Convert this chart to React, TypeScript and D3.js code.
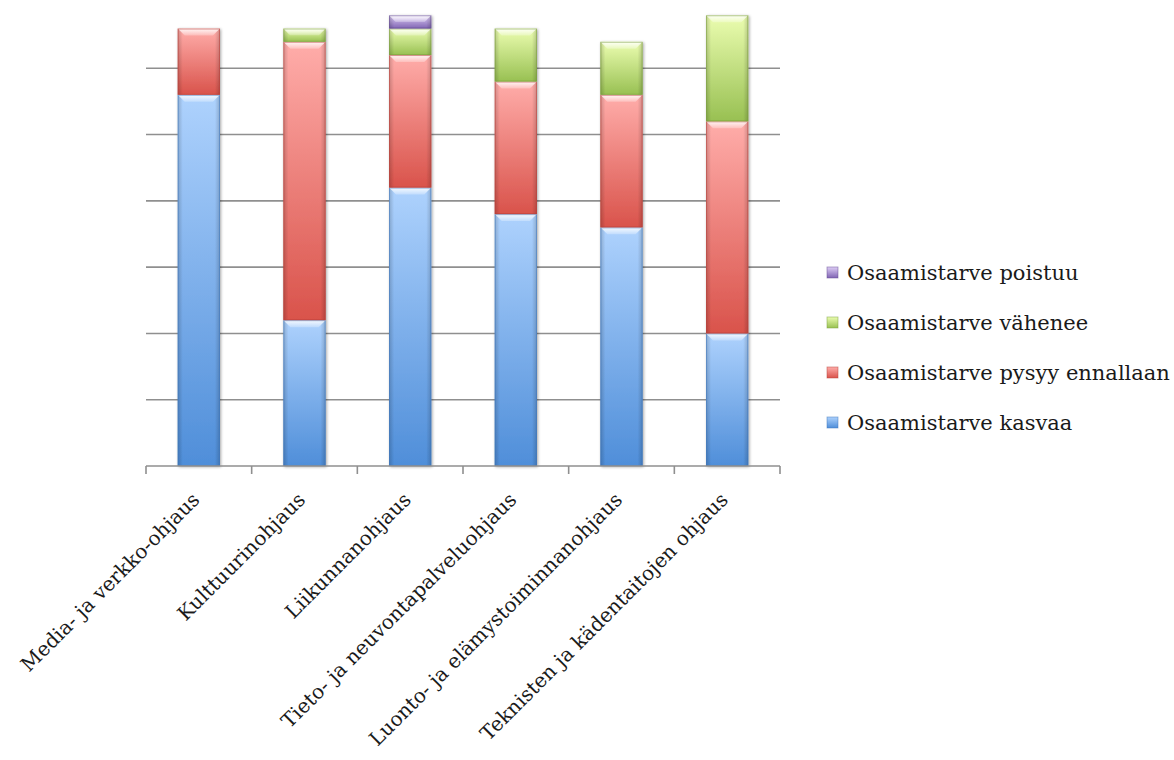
import React from "react";
import * as d3 from "d3";

const WIDTH = 1174;
const HEIGHT = 760;

const categories = [
  "Media- ja verkko-ohjaus",
  "Kulttuurinohjaus",
  "Liikunnanohjaus",
  "Tieto- ja neuvontapalveluohjaus",
  "Luonto- ja elämystoiminnanohjaus",
  "Teknisten ja kädentaitojen ohjaus",
];

const seriesNames = [
  "Osaamistarve kasvaa",
  "Osaamistarve pysyy ennallaan",
  "Osaamistarve vähenee",
  "Osaamistarve poistuu",
];

const kasvaa = [28, 11, 21, 19, 18, 10];
const pysyy = [5, 21, 10, 10, 10, 16];
const vahenee = [0, 1, 2, 4, 4, 8];
const poistuu = [0, 0, 1, 0, 0, 0];

const gridTicks = [5, 10, 15, 20, 25, 30];

// light (top) / dark (bottom) per series
const palette = [
  { light: "#aed2fd", dark: "#4f8ed9", edge: "#3f78bd" },
  { light: "#ffadaa", dark: "#d9534b", edge: "#b8423b" },
  { light: "#ebfdb0", dark: "#98c052", edge: "#7a9e3e" },
  { light: "#ddcdf5", dark: "#8064b3", edge: "#654d94" },
];

const FONT = "'DejaVu Serif', 'Liberation Serif', serif";

export default function App() {
  const rows = categories.map((c, i) => ({
    cat: c,
    s0: kasvaa[i],
    s1: pysyy[i],
    s2: vahenee[i],
    s3: poistuu[i],
  }));
  const keys = ["s0", "s1", "s2", "s3"];
  const stacked = d3.stack<any>().keys(keys)(rows);

  const x = d3
    .scaleBand<string>()
    .domain(categories)
    .range([146, 780])
    .paddingInner(0.6)
    .paddingOuter(0.3);
  const y = d3.scaleLinear().domain([0, 35]).range([466, 2]);
  const step = x.step();
  const bw = x.bandwidth();

  return (
    <svg
      width={WIDTH}
      height={HEIGHT}
      style={{ position: "absolute", left: 0, top: 0, background: "#fff" }}
    >
      <defs>
        {palette.map((p, i) => (
          <linearGradient key={i} id={`g${i}`} x1="0" y1="0" x2="0" y2="1">
            <stop offset="0" stopColor={p.light} />
            <stop offset="1" stopColor={p.dark} />
          </linearGradient>
        ))}
        <linearGradient id="sides" x1="0" y1="0" x2="1" y2="0">
          <stop offset="0" stopColor="#000" stopOpacity="0.18" />
          <stop offset="0.12" stopColor="#000" stopOpacity="0" />
          <stop offset="0.88" stopColor="#000" stopOpacity="0" />
          <stop offset="1" stopColor="#000" stopOpacity="0.18" />
        </linearGradient>
        <linearGradient id="hl" x1="0" y1="0" x2="0" y2="1">
          <stop offset="0" stopColor="#fff" stopOpacity="0.9" />
          <stop offset="1" stopColor="#fff" stopOpacity="0.25" />
        </linearGradient>
        <filter id="shadow" x="-20%" y="-5%" width="140%" height="110%">
          <feGaussianBlur in="SourceAlpha" stdDeviation="1.5" />
          <feOffset dx="1" dy="1" />
          <feComponentTransfer>
            <feFuncA type="linear" slope="0.35" />
          </feComponentTransfer>
          <feMerge>
            <feMergeNode />
            <feMergeNode in="SourceGraphic" />
          </feMerge>
        </filter>
      </defs>

      {/* gridlines */}
      <g stroke="#8f8f8f" strokeWidth={1.6}>
        {gridTicks.map((t) => (
          <line key={t} x1={146} x2={780} y1={y(t)} y2={y(t)} />
        ))}
      </g>

      {/* bars */}
      <g filter="url(#shadow)">
        {stacked.map((layer, si) =>
          layer.map((d, ci) => {
            if (d[1] - d[0] <= 0) return null;
            const x0 = x(categories[ci])!;
            const top = y(d[1]);
            const h = y(d[0]) - y(d[1]);
            const bev = Math.min(7, h / 2);
            return (
              <g key={`${si}-${ci}`}>
                <rect x={x0} y={top} width={bw} height={h} fill={`url(#g${si})`} />
                <rect x={x0} y={top} width={bw} height={h} fill="url(#sides)" />
                <path
                  d={`M${x0},${top}H${x0 + bw}L${x0 + bw - bev},${top + bev}H${x0 + bev}Z`}
                  fill="url(#hl)"
                />
                <rect
                  x={x0 + 0.5}
                  y={top + 0.5}
                  width={bw - 1}
                  height={h - 1}
                  fill="none"
                  stroke={palette[si].edge}
                  strokeOpacity={0.55}
                  strokeWidth={1}
                />
              </g>
            );
          })
        )}
      </g>

      {/* x axis */}
      <g stroke="#8f8f8f" strokeWidth={1.6}>
        <line x1={146} x2={780} y1={466} y2={466} />
        {d3.range(categories.length + 1).map((i) => (
          <line key={i} x1={146 + i * step} x2={146 + i * step} y1={466} y2={474} />
        ))}
      </g>

      {/* category labels */}
      <g fontFamily={FONT} fontSize={20} fill="#1a1a1a">
        {categories.map((c) => {
          const cx = x(c)! + bw / 2;
          return (
            <text
              key={c}
              textAnchor="end"
              transform={`translate(${cx + 2},${501}) rotate(-45)`}
            >
              {c}
            </text>
          );
        })}
      </g>

      {/* legend */}
      <g fontFamily={FONT} fontSize={21} fill="#1a1a1a">
        {seriesNames
          .map((n, i) => ({ n, i }))
          .reverse()
          .map(({ n, i }, k) => {
            const cy = 273 + k * 50;
            return (
              <g key={n}>
                <rect
                  x={827}
                  y={cy - 6}
                  width={11}
                  height={11}
                  fill={`url(#g${i})`}
                  stroke={palette[i].edge}
                  strokeOpacity={0.6}
                  strokeWidth={0.8}
                />
                <text x={847} y={cy} dy="0.35em">
                  {n}
                </text>
              </g>
            );
          })}
      </g>
    </svg>
  );
}
